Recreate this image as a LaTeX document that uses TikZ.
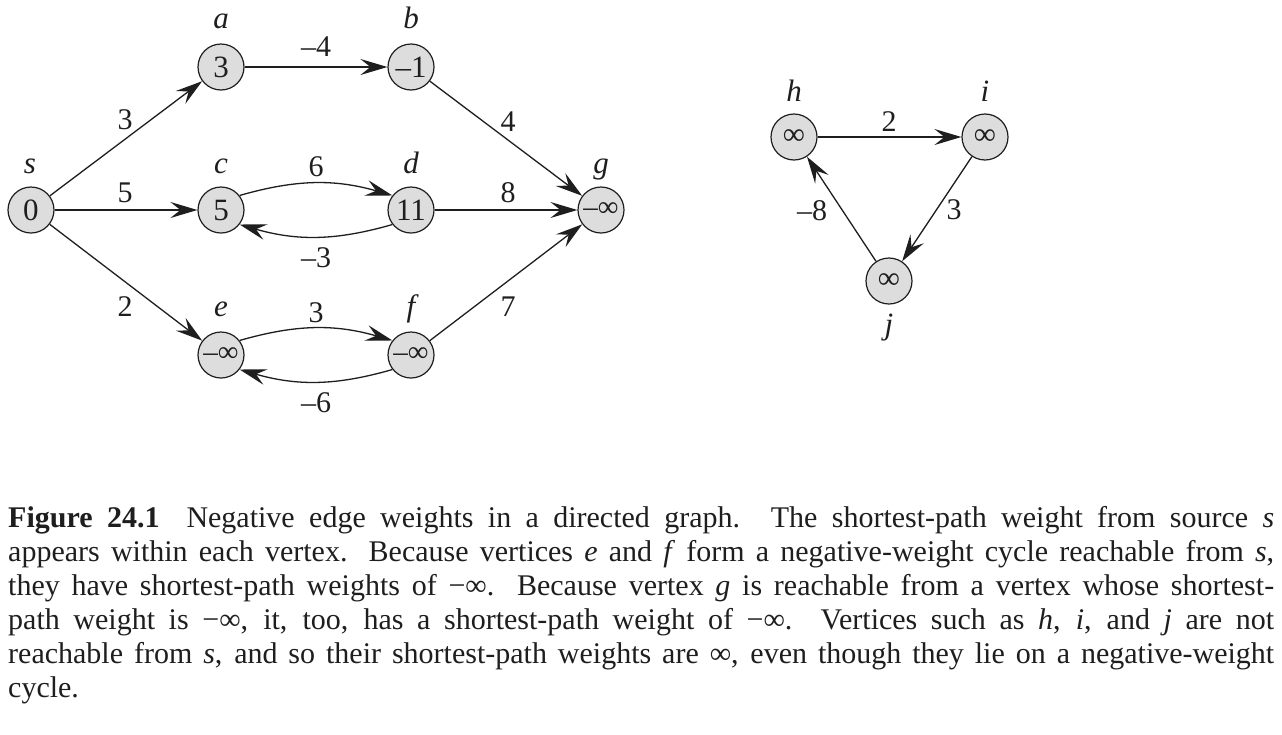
\documentclass[tikz,border=0pt]{standalone}
\usepackage{fontspec}
\setmainfont{Liberation Serif}
\usetikzlibrary{arrows.meta}
\definecolor{vfill}{RGB}{221,221,221}
\definecolor{ink}{RGB}{30,30,30}
\begin{document}
\begin{tikzpicture}[x=1pt,y=1pt,
  vtx/.style={circle, draw=ink, line width=1.2pt, fill=vfill, minimum size=46pt, inner sep=0pt, text=ink, font=\fontsize{31}{30}\selectfont},
  vtxs/.style={vtx, font=\fontsize{29}{30}\selectfont},
  vname/.style={anchor=base, inner sep=0pt, text=ink, font=\fontsize{31}{30}\selectfont\itshape},
  wt/.style={inner sep=0pt, text=ink, font=\fontsize{30}{30}\selectfont},
  arr/.style={draw=ink, -{Stealth[length=27pt,width=16pt,inset=10pt]}, line width=1.3pt},
  capline/.style={anchor=base west, inner sep=0pt, text=ink, font=\fontsize{30}{32}\selectfont}]
\useasboundingbox (0,0) rectangle (1282,-734);

% vertices
\node[vtx] (s) at (31,-210) {0};
\node[vtx] (a) at (221,-67) {3};
\node[vtx] (b) at (411,-67) {–1};
\node[vtx] (c) at (221,-210) {5};
\node[vtx] (d) at (411,-210) {11};
\node[vtxs] (g) at (601,-210) {–∞};
\node[vtxs] (e) at (221,-355) {–∞};
\node[vtxs] (f) at (411,-355) {–∞};
\node[vtx] (h) at (794,-137) {∞};
\node[vtx] (i) at (985,-137) {∞};
\node[vtx] (j) at (889,-281) {∞};

% vertex names
\node[vname] (ls) at (30,-173) {s};
\node[vname] (la) at (221,-28) {a};
\node[vname] (lb) at (411,-28) {b};
\node[vname] (lc) at (221,-173) {c};
\node[vname] (ld) at (411,-173) {d};
\node[vname] (lg) at (601,-173) {g};
\node[vname] (le) at (221,-316) {e};
\node[vname] (lf) at (411,-316) {f};
\node[vname] (lh) at (794,-101) {h};
\node[vname] (li) at (985,-101) {i};
\node[vname] (lj) at (889,-334) {j};

% edges
\draw[arr] (s) -- (a);
\draw[arr] (s) -- (c);
\draw[arr] (s) -- (e);
\draw[arr] (a) -- (b);
\draw[arr] (b) -- (g);
\draw[arr] (d) -- (g);
\draw[arr] (f) -- (g);
\draw[arr] (c.38) to[out=16,in=164] (d.142);
\draw[arr] (d.218) to[out=196,in=-16] (c.322);
\draw[arr] (e.38) to[out=16,in=164] (f.142);
\draw[arr] (f.218) to[out=196,in=-16] (e.322);
\draw[arr] (h) -- (i);
\draw[arr] (i) -- (j);
\draw[arr] (j) -- (h);

% weights
\node[wt] (w1) at (125,-120) {3};
\node[wt] (w2) at (125,-193) {5};
\node[wt] (w3) at (125,-307) {2};
\node[wt] (w4) at (316,-47) {–4};
\node[wt] (w5) at (508,-122) {4};
\node[wt] (w6) at (316,-167) {6};
\node[wt] (w7) at (316,-258) {–3};
\node[wt] (w8) at (508,-193) {8};
\node[wt] (w9) at (316,-313) {3};
\node[wt] (w10) at (316,-403) {–6};
\node[wt] (w11) at (508,-307) {7};
\node[wt] (w12) at (889,-122) {2};
\node[wt] (w13) at (954,-210) {3};
\node[wt] (w14) at (812,-211) {–8};

% caption
\node[capline] (c1) at (8,-527) {\makebox[1266pt][s]{\textbf{Figure 24.1}\hspace{0.9em}Negative edge weights in a directed graph. The shortest-path weight from source \textit{s}}};
\node[capline] (c2) at (8,-561) {\makebox[1266pt][s]{appears within each vertex. Because vertices \textit{e} and \textit{f} form a negative-weight cycle reachable from \textit{s},}};
\node[capline] (c3) at (8,-595) {\makebox[1266pt][s]{they have shortest-path weights of −∞. Because vertex \textit{g} is reachable from a vertex whose shortest-}};
\node[capline] (c4) at (8,-629) {\makebox[1266pt][s]{path weight is −∞, it, too, has a shortest-path weight of −∞. Vertices such as \textit{h}, \textit{i}, and \textit{j} are not}};
\node[capline] (c5) at (8,-663) {\makebox[1266pt][s]{reachable from \textit{s}, and so their shortest-path weights are ∞, even though they lie on a negative-weight}};
\node[capline] (c6) at (8,-697) {cycle.};
\end{tikzpicture}
\end{document}
